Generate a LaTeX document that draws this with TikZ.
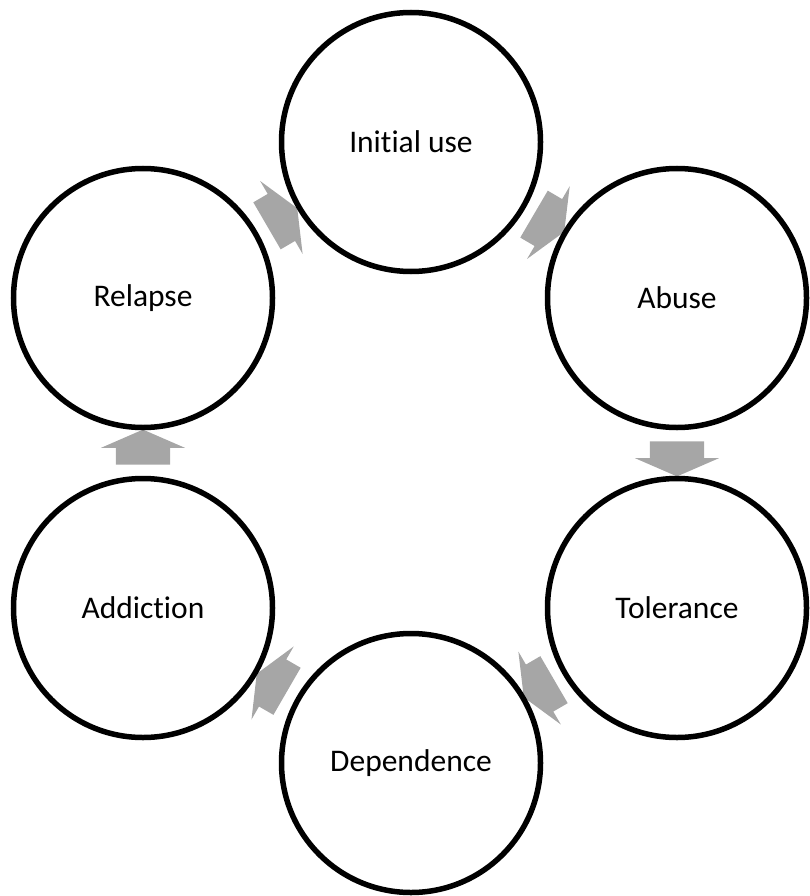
\documentclass[tikz,border=0pt]{standalone}
\usepackage{fontspec}
\setmainfont{Carlito}[Ligatures=NoCommon]
\usetikzlibrary{shapes.arrows,backgrounds}
\definecolor{arrowgray}{RGB}{166,166,166}
\tikzset{
  stage/.style={circle, draw=black, line width=5.5pt, fill=white, minimum size=259pt, inner sep=0pt, font=\fontsize{31.5}{36}\selectfont},
  blockarrow/.style={single arrow, fill=arrowgray, draw=none, inner xsep=0pt, inner ysep=27pt,
    single arrow head extend=15pt, single arrow tip angle=133, minimum height=35pt, sloped, allow upside down}
}
\begin{document}
\begin{tikzpicture}[x=1pt,y=-1pt]
\useasboundingbox (0,0) rectangle (809,896);
\node[stage] (init) at (411,142) {Initial use};
\node[stage] (abuse) at (677,298) {Abuse};
\node[stage] (tol) at (677,608) {Tolerance};
\node[stage] (dep) at (411,763) {Dependence};
\node[stage] (add) at (143,608) {Addiction};
\node[stage] (rel) at (143,298) {Relapse};
\begin{scope}[on background layer]
\path (init.center) -- node[blockarrow] {} (abuse.center);
\path (abuse.center) -- node[blockarrow] {} (tol.center);
\path (tol.center) -- node[blockarrow] {} (dep.center);
\path (dep.center) -- node[blockarrow] {} (add.center);
\path (add.center) -- node[blockarrow] {} (rel.center);
\path (rel.center) -- node[blockarrow] {} (init.center);
\end{scope}
\end{tikzpicture}
\end{document}
